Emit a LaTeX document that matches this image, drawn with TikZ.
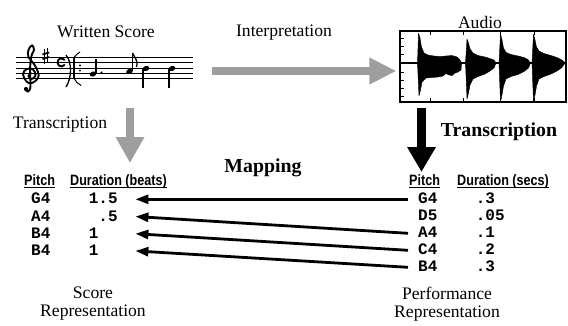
\documentclass[tikz,border=0pt]{standalone}
\usepackage{fontspec}
\setmainfont{Liberation Serif}
\setsansfont{Liberation Sans}
\setmonofont{Liberation Mono}
\newfontfamily\hdrfont[FakeStretch=0.84]{Liberation Sans Bold}
\usetikzlibrary{arrows.meta}
\definecolor{arrowgray}{RGB}{158,158,158}
\begin{document}
\begin{tikzpicture}[x=1pt,y=-1pt,
 lbl/.style={font=\fontsize{17.6}{18}\selectfont, inner sep=0},
 boldlbl/.style={font=\bfseries\fontsize{19.8}{22}\selectfont, inner sep=0},
 hdr/.style={font=\hdrfont\fontsize{15}{15}\selectfont, inner sep=0, anchor=base west},
 hline/.style={line width=0.9pt},
 mono/.style={font=\ttfamily\bfseries\fontsize{16}{16}\selectfont, inner sep=0, anchor=west, text height=9.2pt, text depth=0pt},
 maparrow/.style={line width=2.8pt, -{Triangle[length=13pt,width=9pt]}},
 staffline/.style={line width=0.8pt},
 notestroke/.style={line width=1.1pt},
 symstroke/.style={line width=1.9pt, line cap=round},
 wave/.style={fill=black, draw=black, line width=0.4pt, line join=round},
]
\useasboundingbox (0,0) rectangle (568,325);

% ---------- labels ----------
\node[lbl] (wscore) at (106,32) {Written Score};
\node[lbl] (interp) at (284,33) {Interpretation};
\node[lbl] (audiolbl) at (480,22) {Audio};
\node[lbl] (transL) at (60,125) {Transcription};
\node[boldlbl] (transR) at (499,132) {Transcription};
\node[boldlbl] (mapping) at (263,168) {Mapping};

% ---------- staff ----------
\node[minimum width=177, minimum height=21, inner sep=0] (staff) at (104.5,68) {};
\foreach \k in {0,...,4} \draw[staffline] (16,{57.5+5.25*\k}) -- (193,{57.5+5.25*\k});
% treble clef
\draw[symstroke] plot[smooth, tension=0.7] coordinates {(31,73) (28.5,76) (31.5,79) (35.5,75.5) (33,69.5) (27,69) (23,74) (26.5,81.5) (32,83) (38,78) (38,72) (34,64) (28.5,57) (28.5,50) (32,45.5) (34,50) (31.5,56) (30,70) (30.5,86) (28,91.5) (25.5,89.5)};
\fill (26,89) circle [radius=2.1];
% sharp
\draw[line width=1pt] (44.5,49) -- (44.5,63.5);
\draw[line width=1pt] (47.2,47.5) -- (47.2,62);
\draw[line width=1.8pt] (42.5,54.5) -- (49.2,52.5);
\draw[line width=1.8pt] (42.5,59) -- (49.2,57);
% common time C
\draw[symstroke] (64.5,65) arc[start angle=40, end angle=320, radius=4];
% bracket and repeat
\draw[line width=1.3pt] (66,55) .. controls (72,62) and (72,78) .. (66,87);
\draw[line width=2.2pt] (74,57.5) -- (74,78.5);
\draw[line width=1pt] (74,57.5) .. controls (76,55) and (78,53) .. (80,52);
\draw[line width=1pt] (74,78.5) .. controls (76,81.5) and (78,84) .. (81,85.5);
\fill (80,65.4) circle [radius=1.1];
\fill (80,70.6) circle [radius=1.1];
% dotted quarter G4
\fill[rotate around={20:(93,74)}] (93,74) ellipse [x radius=3.4, y radius=2.5];
\draw[notestroke] (96,73.5) -- (96,59);
\fill (101.5,72.5) circle [radius=1.1];
% eighth A4
\fill[rotate around={20:(129.5,71.5)}] (129.5,71.5) ellipse [x radius=3.4, y radius=2.5];
\draw[notestroke] (132.6,71) -- (132.6,53);
\draw[line width=1.3pt] (132.6,53) .. controls (134,57) and (138.5,60) .. (136.5,67);
% quarters B4
\fill[rotate around={20:(146,68.5)}] (146,68.5) ellipse [x radius=3.4, y radius=2.5];
\draw[notestroke] (143,69) -- (143,88);
\fill[rotate around={20:(172,68.5)}] (172,68.5) ellipse [x radius=3.4, y radius=2.5];
\draw[notestroke] (169,69) -- (169,88);

% ---------- audio ----------
\node[draw, line width=1.2pt, minimum width=166, minimum height=71, inner sep=0] (audio) at (483,66.5) {};
\foreach \yy in {38,46,54,63,72,80,88,96} \draw[line width=0.8pt] (400,\yy) -- (403.5,\yy);
\foreach \xx in {430,463,500,534} {
  \draw[line width=0.8pt] (\xx,31) -- (\xx,35);
  \draw[line width=0.8pt] (\xx,102) -- (\xx,98);
}
\draw[line width=2.4pt] (400,63) -- (566,63);
\draw[wave] (417.5,63) -- (418.5,33) -- (420,38) -- (421.5,47) -- (424,53) -- (428,55) -- (434,56) -- (440,56.5) -- (446,56) -- (452,55.5) -- (457,57) -- (460,60) -- (461.5,63) -- (461,70) -- (458,72) -- (455,73) -- (452,75.5) -- (449,75) -- (446,73.5) -- (443,76) -- (438,77) -- (432,77.5) -- (426,78) -- (422,82) -- (420.5,90) -- (419,96) -- cycle;
\draw[wave] (465.5,63) -- (467,39) -- (468.5,43) -- (470,49) -- (473,53) -- (478,55.5) -- (485,57) -- (490,58.5) -- (494,60) -- (496,63) -- (494,68) -- (490,71) -- (485,74) -- (478,76.5) -- (473,79) -- (470,85) -- (468.5,93) -- (467,99) -- cycle;
\draw[wave] (499,63) -- (500.5,34) -- (502,40) -- (503.5,48) -- (506,52.5) -- (511,54.5) -- (518,56) -- (524,57.5) -- (528,59.5) -- (530.5,63) -- (528.5,68) -- (524,71.5) -- (518,74.5) -- (511,76.5) -- (506,79) -- (503.5,86) -- (502,95) -- (500.5,102) -- cycle;
\draw[wave] (532,63) -- (533.5,34) -- (535,40) -- (536.5,47) -- (539,51) -- (544,53.5) -- (551,55.5) -- (557,57.5) -- (562,60) -- (565,63) -- (562,67.5) -- (557,71) -- (551,74) -- (544,76.5) -- (539,79) -- (536.5,86) -- (535,95) -- (533.5,102) -- cycle;

% ---------- big arrows ----------
\draw[arrowgray, line width=8pt, -{Triangle[width=25pt,length=27pt]}] ([shift={(19,3)}]staff.east) -- ([shift={(-3,4.5)}]audio.west);
\coordinate (gtop) at (130,108);
\coordinate (gtip) at (130,163);
\draw[arrowgray, line width=8pt, -{Triangle[width=27pt,length=26pt]}] (gtop) -- (gtip);
\coordinate (btop) at (421.5,108);
\coordinate (btip) at (421.5,172);
\draw[black, line width=9pt, -{Triangle[width=27pt,length=25pt]}] (btop) -- (btip);

% ---------- score table ----------
\node[hdr] (lhp) at (24,185.5) {Pitch};
\node[hdr] (lhd) at (70,185.5) {Duration (beats)};
\draw[hline] ([yshift=-2pt]lhp.base west) -- ([yshift=-2pt]lhp.base east);
\draw[hline] ([yshift=-2pt]lhd.base west) -- ([yshift=-2pt]lhd.base east);
\node[mono] (lp1) at (31,199.3) {G4};
\node[mono] (lp2) at (31,216.5) {A4};
\node[mono] (lp3) at (31,233.7) {B4};
\node[mono] (lp4) at (31,250.9) {B4};
\node[mono] (ld1) at (88.6,199.3) {1.5};
\node[mono] (ld2) at (88.6,216.5) {\phantom{1}.5};
\node[mono] (ld3) at (88.6,233.7) {1\phantom{.5}};
\node[mono] (ld4) at (88.6,250.9) {1\phantom{.5}};

% ---------- performance table ----------
\node[hdr] (rhp) at (409,185.5) {Pitch};
\node[hdr] (rhd) at (457,185.5) {Duration (secs)};
\draw[hline] ([yshift=-2pt]rhp.base west) -- ([yshift=-2pt]rhp.base east);
\draw[hline] ([yshift=-2pt]rhd.base west) -- ([yshift=-2pt]rhd.base east);
\node[mono] (rp1) at (418,199.3) {G4};
\node[mono] (rp2) at (418,216.3) {D5};
\node[mono] (rp3) at (418,233.3) {A4};
\node[mono] (rp4) at (418,250.3) {C4};
\node[mono] (rp5) at (418,267.3) {B4};
\node[mono] (rd1) at (475.6,199.3) {.3};
\node[mono] (rd2) at (475.6,216.3) {.05};
\node[mono] (rd3) at (475.6,233.3) {.1};
\node[mono] (rd4) at (475.6,250.3) {.2};
\node[mono] (rd5) at (475.6,267.3) {.3};

% ---------- mapping arrows ----------
\draw[maparrow] ([xshift=-10pt]rp1.west) -- ([xshift=17.6pt]ld1.east);
\draw[maparrow] ([xshift=-10pt]rp3.west) -- ([xshift=17.6pt]ld2.east);
\draw[maparrow] ([xshift=-10pt]rp4.west) -- ([xshift=17.6pt]ld3.east);
\draw[maparrow] ([xshift=-10pt]rp5.west) -- ([xshift=17.6pt]ld4.east);

% ---------- bottom labels ----------
\node[lbl, align=center] (scorerep) at (93,304) {Score\\Representation};
\node[lbl, align=center] (perfrep) at (447,304) {Performance\\Representation};
\end{tikzpicture}
\end{document}
